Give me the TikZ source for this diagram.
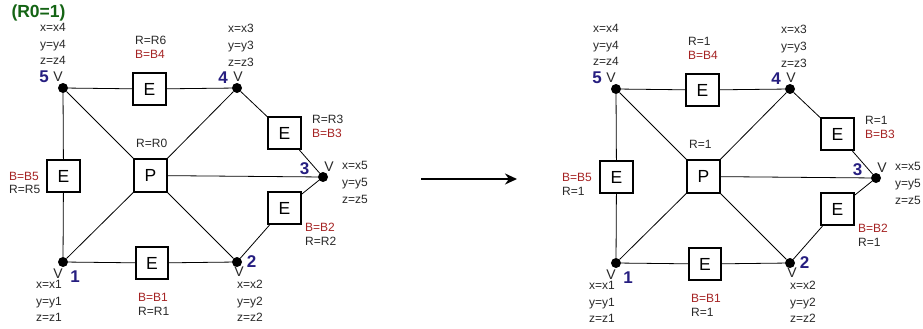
\documentclass[tikz,border=0pt]{standalone}
\usepackage{fontspec}
\setmainfont{Liberation Sans}
\usepackage{xcolor}
\usepackage{tikz}
\usetikzlibrary{arrows.meta,positioning}
\definecolor{bred}{RGB}{165,35,35}
\definecolor{vblue}{RGB}{38,30,128}
\definecolor{rgreen}{RGB}{20,100,20}
\definecolor{tgray}{RGB}{40,40,40}
\tikzset{
  vdot/.style={circle, fill=black, inner sep=0pt, minimum size=10pt},
  ebox/.style={rectangle, draw=black, line width=1.6pt, fill=white, minimum size=32.5pt,
               inner sep=0pt, font=\fontsize{17.5}{17.5}\selectfont},
  link/.style={line width=0.8pt},
  ar/.style={-{Stealth[length=12pt, width=11pt]}, line width=2.6pt}
}
\begin{document}
\begin{tikzpicture}[
  x=1pt, y=-1pt,
  lab/.style={inner sep=0pt, anchor=west, align=left, text=tgray, font=\fontsize{12}{13.8}\selectfont},
  xyz/.style={lab, font=\fontsize{12}{16.7}\selectfont},
  num/.style={inner sep=0pt, text=vblue, font=\fontsize{17}{17}\selectfont\bfseries},
  vl/.style={inner sep=0pt, text=tgray, font=\fontsize{14}{14}\selectfont},
  rzero/.style={inner sep=0pt, text=rgreen, font=\fontsize{17.5}{17.5}\selectfont\bfseries}
]
\useasboundingbox (0,0) rectangle (923,329);
\node[rzero] (r0) at (38.5,12.5) {(R0=1)};
% ---- left mesh: vertices ----
\node[vdot] (lv5) at (63,88) {};
\node[vdot] (lv4) at (237,88) {};
\node[vdot] (lv3) at (323,177) {};
\node[vdot] (lv2) at (237,262) {};
\node[vdot] (lv1) at (63,262) {};
% ---- left mesh: elements ----
\node[ebox] (lp) at (150.5,175.5) {P};
\node[ebox] (le4) at (149.5,89) {E};
\node[ebox] (le3) at (284.5,133) {E};
\node[ebox] (le2) at (284.5,208) {E};
\node[ebox] (le1) at (152,263) {E};
\node[ebox] (le5) at (63.5,176) {E};
% ---- left mesh: edges ----
\draw[link] (lv5) -- (le4) -- (lv4);
\draw[link] (lv4) -- (le3) -- (lv3);
\draw[link] (lv2) -- (le2) -- (lv3);
\draw[link] (lv1) -- (le1) -- (lv2);
\draw[link] (lv5) -- (le5) -- (lv1);
\draw[link] (lv5) -- (lp);
\draw[link] (lv4) -- (lp);
\draw[link] (lv1) -- (lp);
\draw[link] (lv2) -- (lp);
\draw[link] (lp) -- (lv3);
% ---- left mesh: vertex labels ----
\node[xyz] (lc5) at (40,44) {x=x4\\y=y4\\z=z4};
\node[num] (ln5) at (44,77) {5};
\node[vl] (lw5) at (58,77) {V};
\node[xyz] (lc4) at (228,45.5) {x=x3\\y=y3\\z=z3};
\node[num] (ln4) at (223,78) {4};
\node[vl] (lw4) at (238,76.5) {V};
\node[xyz] (lc3) at (342,182.5) {x=x5\\y=y5\\z=z5};
\node[num] (ln3) at (304.5,169) {3};
\node[vl] (lw3) at (329,167) {V};
\node[xyz] (lc2) at (237,301) {x=x2\\y=y2\\z=z2};
\node[num] (ln2) at (251.5,262) {2};
\node[vl] (lw2) at (239,272) {V};
\node[xyz] (lc1) at (36,301) {x=x1\\y=y1\\z=z1};
\node[num] (ln1) at (75,277) {1};
\node[vl] (lw1) at (58,273.5) {V};
% ---- left mesh: element labels ----
\node[lab] (lr4) at (135,47) {R=R6\\\textcolor{bred}{B=B4}};
\node[lab] (lr3) at (312,126.5) {R=R3\\\textcolor{bred}{B=B3}};
\node[lab] (lrp) at (136,143.5) {R=R0};
\node[lab] (lr5) at (9,183) {\textcolor{bred}{B=B5}\\R=R5};
\node[lab] (lr2) at (305,234.5) {\textcolor{bred}{B=B2}\\R=R2};
\node[lab] (lr1) at (138,304.5) {\textcolor{bred}{B=B1}\\R=R1};
% ---- arrow ----
\coordinate (as) at (421,179);
\coordinate (ae) at (517,179);
\draw[ar] (as) -- (ae);
\begin{scope}[shift={(553,1)}]
% ---- right mesh: vertices ----
\node[vdot] (rv5) at (63,88) {};
\node[vdot] (rv4) at (237,88) {};
\node[vdot] (rv3) at (323,177) {};
\node[vdot] (rv2) at (237,262) {};
\node[vdot] (rv1) at (63,262) {};
% ---- right mesh: elements ----
\node[ebox] (rp) at (150.5,175.5) {P};
\node[ebox] (re4) at (149.5,89) {E};
\node[ebox] (re3) at (284.5,133) {E};
\node[ebox] (re2) at (284.5,208) {E};
\node[ebox] (re1) at (152,263) {E};
\node[ebox] (re5) at (63.5,176) {E};
% ---- right mesh: edges ----
\draw[link] (rv5) -- (re4) -- (rv4);
\draw[link] (rv4) -- (re3) -- (rv3);
\draw[link] (rv2) -- (re2) -- (rv3);
\draw[link] (rv1) -- (re1) -- (rv2);
\draw[link] (rv5) -- (re5) -- (rv1);
\draw[link] (rv5) -- (rp);
\draw[link] (rv4) -- (rp);
\draw[link] (rv1) -- (rp);
\draw[link] (rv2) -- (rp);
\draw[link] (rp) -- (rv3);
% ---- right mesh: vertex labels ----
\node[xyz] (rc5) at (40,44) {x=x4\\y=y4\\z=z4};
\node[num] (rn5) at (44,77) {5};
\node[vl] (rw5) at (58,77) {V};
\node[xyz] (rc4) at (228,45.5) {x=x3\\y=y3\\z=z3};
\node[num] (rn4) at (223,78) {4};
\node[vl] (rw4) at (238,76.5) {V};
\node[xyz] (rc3) at (342,182.5) {x=x5\\y=y5\\z=z5};
\node[num] (rn3) at (304.5,169) {3};
\node[vl] (rw3) at (329,167) {V};
\node[xyz] (rc2) at (237,301) {x=x2\\y=y2\\z=z2};
\node[num] (rn2) at (251.5,262) {2};
\node[vl] (rw2) at (239,272) {V};
\node[xyz] (rc1) at (36,301) {x=x1\\y=y1\\z=z1};
\node[num] (rn1) at (75,277) {1};
\node[vl] (rw1) at (58,273.5) {V};
% ---- right mesh: element labels ----
\node[lab] (rr4) at (135,47) {R=1\\\textcolor{bred}{B=B4}};
\node[lab] (rr3) at (312,126.5) {R=1\\\textcolor{bred}{B=B3}};
\node[lab] (rrp) at (136,143.5) {R=1};
\node[lab] (rr5) at (9,183) {\textcolor{bred}{B=B5}\\R=1};
\node[lab] (rr2) at (305,234.5) {\textcolor{bred}{B=B2}\\R=1};
\node[lab] (rr1) at (138,304.5) {\textcolor{bred}{B=B1}\\R=1};
\end{scope}
\end{tikzpicture}
\end{document}
